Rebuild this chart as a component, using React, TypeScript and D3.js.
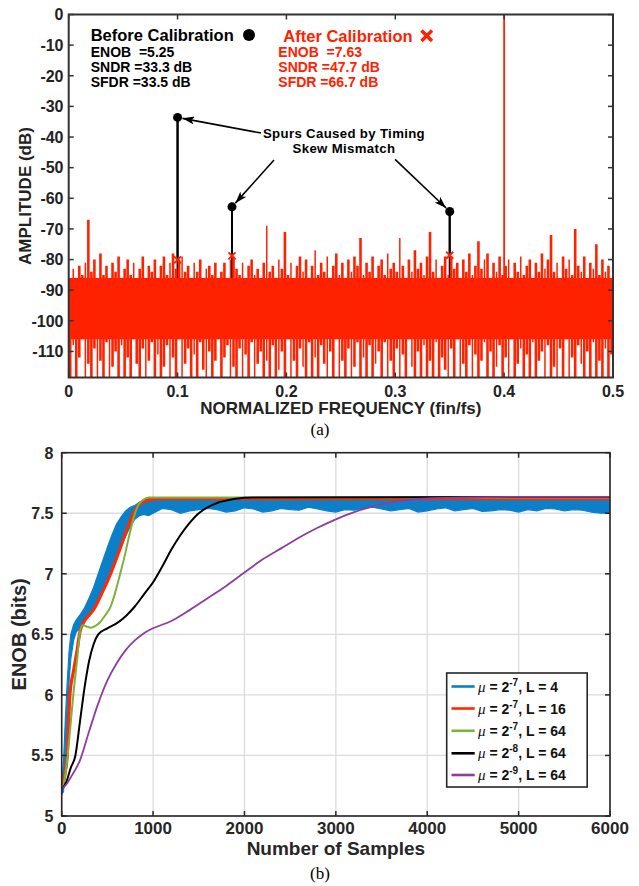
import React from 'react';
import * as d3 from 'd3';

// ---------- Panel (a) data ----------
const freqTicks = [0, 0.1, 0.2, 0.3, 0.4, 0.5];
const ampTicks = [0, -10, -20, -30, -40, -50, -60, -70, -80, -90, -100, -110];
// noise floor of the "after calibration" spectrum: upper and lower excursions per bin
const noiseTop = [
  -86, -83, -88, -82, -85, -81, -67, -84, -80, -86,
  -78, -85, -82, -87, -81, -84, -79, -86, -83, -80,
  -85, -81, -88, -83, -79, -86, -82, -84, -80, -87,
  -82, -79, -85, -81, -78, -83, -80, -79, -84, -82,
  -86, -81, -84, -80, -87, -83, -82, -85, -81, -88,
  -84, -81, -86, -80, -79, -83, -85, -81, -87, -82,
  -80, -85, -83, -88, -81, -69, -84, -82, -86, -80,
  -83, -71, -85, -81, -87, -82, -79, -84, -80, -86,
  -82, -77, -85, -81, -84, -79, -86, -82, -78, -85,
  -81, -87, -80, -84, -79, -82, -73, -85, -81, -84,
  -79, -86, -82, -80, -85, -78, -83, -81, -84, -73,
  -82, -86, -80, -84, -77, -83, -81, -85, -79, -71,
  -84, -80, -86, -82, -79, -85, -79, -83, -81, -86,
  -80, -84, -78, -85, -82, -74, -83, -80, -78, -86,
  -81, -84, -79, -85, -82, -80, -86, -81, -84, -79,
  -85, -82, -80, -87, -81, -84, -78, -83, -80, -72,
  -84, -81, -86, -79, -83, -80, -85, -70, -82, -84,
  -79, -86, -81, -83, -75, -85, -80, -84, -82, -86,
];
const noiseBottom = [
  -119, -108, -119, -112, -106, -119, -114, -119, -109, -119,
  -113, -119, -107, -119, -115, -110, -119, -108, -119, -112,
  -119, -106, -114, -119, -109, -119, -113, -107, -119, -111,
  -119, -115, -108, -119, -112, -119, -106, -119, -114, -109,
  -119, -111, -119, -107, -116, -119, -110, -119, -113, -106,
  -119, -112, -108, -119, -115, -119, -109, -119, -111, -119,
  -107, -119, -114, -110, -119, -113, -119, -108, -119, -116,
  -110, -119, -106, -119, -113, -119, -109, -115, -119, -107,
  -119, -112, -119, -108, -114, -119, -110, -119, -106, -119,
  -113, -119, -109, -119, -115, -107, -119, -112, -119, -108,
  -119, -114, -110, -119, -107, -119, -113, -119, -109, -119,
  -111, -119, -106, -115, -119, -110, -119, -108, -119, -113,
  -119, -107, -119, -112, -116, -119, -109, -119, -106, -119,
  -114, -119, -108, -119, -111, -119, -113, -107, -119, -110,
  -119, -115, -108, -119, -112, -119, -106, -119, -114, -109,
  -119, -111, -119, -107, -119, -113, -110, -119, -108, -119,
  -115, -119, -109, -119, -106, -119, -112, -119, -108, -114,
  -119, -110, -119, -107, -119, -113, -119, -109, -119, -111,
];
// solid core of the noise band (dB)
const noiseCore = [-86, -106];
const spurFreq = [0.1, 0.15, 0.35];
const spurBefore = [-33.6, -62.8, -64.3];
const spurAfter = [-80.1, -78.8, -78.6];
const signalFreq = 0.4;
const signalAmp = 0;
const signalBase = -88;
// annotation arrow tails (freq, dB)
const arrowTailFreq = [0.1767, 0.1886, 0.2998];
const arrowTailAmp = [-38.7, -47.5, -47.3];
const beforeLines = ['ENOB  =5.25', 'SNDR =33.3 dB', 'SFDR =33.5 dB'];
const afterLines = ['ENOB  =7.63', 'SNDR =47.7 dB', 'SFDR =66.7 dB'];

// ---------- Panel (b) data ----------
const sampleTicks = [0, 1000, 2000, 3000, 4000, 5000, 6000];
const enobTicks = [5, 5.5, 6, 6.5, 7, 7.5, 8];
const blueS = [0, 20, 40, 60, 80, 100, 130, 160, 200, 250, 300, 350, 400, 450, 500, 550, 600, 650, 700, 750, 800, 850, 900, 950,
  1000, 1100, 1200, 1300, 1400, 1500, 1600, 1700, 1800, 1900, 2000, 2100, 2200, 2300, 2400, 2500, 2600, 2700, 2800, 2900,
  3000, 3100, 3200, 3300, 3400, 3500, 3600, 3700, 3800, 3900, 4000, 4100, 4200, 4300, 4400, 4500, 4600, 4700, 4800, 4900,
  5000, 5100, 5200, 5300, 5400, 5500, 5600, 5700, 5800, 5900, 6000];
const blueUpper = [5.26, 5.45, 5.8, 6.1, 6.35, 6.5, 6.58, 6.62, 6.66, 6.72, 6.8, 6.89, 7.0, 7.11, 7.22, 7.32, 7.41, 7.47, 7.52, 7.55, 7.565, 7.59, 7.61, 7.62,
  7.62, 7.62, 7.62, 7.62, 7.62, 7.62, 7.62, 7.62, 7.62, 7.62, 7.62, 7.62, 7.62, 7.62, 7.62, 7.62, 7.62, 7.62, 7.62, 7.62,
  7.62, 7.62, 7.62, 7.62, 7.62, 7.62, 7.62, 7.62, 7.62, 7.62, 7.62, 7.62, 7.62, 7.62, 7.62, 7.62, 7.62, 7.62, 7.62, 7.62,
  7.62, 7.62, 7.62, 7.62, 7.62, 7.62, 7.62, 7.62, 7.62, 7.62, 7.62];
const blueLower = [5.18, 5.2, 5.45, 5.8, 6.1, 6.3, 6.45, 6.52, 6.55, 6.6, 6.65, 6.7, 6.78, 6.86, 6.95, 7.04, 7.13, 7.22, 7.31, 7.39, 7.45, 7.48, 7.49, 7.48,
  7.5, 7.54, 7.53, 7.5, 7.52, 7.53, 7.54, 7.53, 7.51, 7.52, 7.545, 7.535, 7.51, 7.52, 7.54, 7.53, 7.525, 7.55, 7.535, 7.52,
  7.51, 7.53, 7.525, 7.54, 7.55, 7.535, 7.52, 7.53, 7.54, 7.51, 7.52, 7.535, 7.545, 7.52, 7.53, 7.54, 7.515, 7.52, 7.53, 7.525,
  7.51, 7.53, 7.52, 7.54, 7.535, 7.52, 7.53, 7.525, 7.51, 7.5, 7.5];
const redS = [0, 30, 60, 90, 130, 165, 200, 240, 300, 345, 440, 530, 620, 710, 785, 860, 960, 1100, 6000];
const redV = [5.22, 5.32, 5.5, 6.0, 6.2, 6.35, 6.52, 6.6, 6.66, 6.7, 6.84, 6.99, 7.17, 7.36, 7.5, 7.58, 7.61, 7.62, 7.62];
const greenS = [0, 30, 65, 100, 127, 170, 200, 230, 270, 320, 370, 420, 470, 530, 580, 640, 690, 740, 790, 840, 890, 950, 6000];
const greenV = [5.22, 5.3, 5.5, 5.78, 6.0, 6.3, 6.52, 6.575, 6.565, 6.555, 6.57, 6.6, 6.65, 6.72, 6.83, 7.0, 7.15, 7.32, 7.47, 7.57, 7.61, 7.63, 7.63];
const blackS = [0, 50, 100, 150, 200, 250, 300, 350, 400, 500, 600, 700, 800, 900, 1000, 1100, 1200, 1300, 1400, 1500, 1600, 1700, 1800, 1900, 2100, 6000];
const blackV = [5.22, 5.28, 5.4, 5.5, 5.78, 6.06, 6.28, 6.42, 6.5, 6.55, 6.59, 6.65, 6.73, 6.83, 6.93, 7.06, 7.2, 7.32, 7.42, 7.5, 7.55, 7.585, 7.605, 7.62, 7.63, 7.635];
const purpleS = [0, 50, 100, 200, 300, 400, 500, 600, 700, 800, 900, 1000, 1200, 1400, 1600, 1800, 2000, 2200, 2400, 2600, 2800, 3000, 3200, 3400, 3600, 3800, 4000, 4400, 5000, 6000];
const purpleV = [5.22, 5.26, 5.32, 5.46, 5.7, 5.93, 6.12, 6.26, 6.37, 6.45, 6.51, 6.55, 6.61, 6.7, 6.8, 6.9, 7.01, 7.12, 7.21, 7.3, 7.38, 7.45, 7.51, 7.555, 7.59, 7.61, 7.622, 7.63, 7.635, 7.635];
const legendMuExp = ['-7', '-7', '-7', '-8', '-9'];
const legendL = ['4', '16', '64', '64', '64'];
const legendColors = ['#0b80c9', '#ff2a00', '#7bb33a', '#000000', '#8e3d9f'];

const RED = '#ff2200';
const SANS = '"Liberation Sans", Arial, Helvetica, sans-serif';
const SERIF = '"Liberation Serif", "Times New Roman", serif';

export default function App() {
  // ---- scales (a)
  const xA = d3.scaleLinear().domain([0, 0.5]).range([68.7, 613]);
  const yA = d3.scaleLinear().domain([-118.5, 0]).range([377.5, 14.5]);
  // ---- scales (b)
  const xB = d3.scaleLinear().domain([0, 6000]).range([61.7, 610]);
  const yB = d3.scaleLinear().domain([5, 8]).range([816, 452.7]);

  const N = noiseTop.length;
  const binW = 0.5 / N;
  const binPx = xA(binW) - xA(0);

  const curve = (s: number[], v: number[]) =>
    d3.line<number>().x((_, i) => xB(s[i])).y(d => yB(d)).curve(d3.curveMonotoneX)(v) || '';
  const blueArea = d3.area<number>()
    .x((_, i) => xB(blueS[i]))
    .y0((_, i) => yB(blueLower[i]))
    .y1(d => yB(d))(blueUpper) || '';

  const [ax0, ax1] = xA.range();
  const [ay1, ay0] = yA.range();
  const [bx0, bx1] = xB.range();
  const [by1, by0] = yB.range();

  const arrows = spurFreq.map((f, i) => {
    const hx = xA(f), hy = yA(spurBefore[i]);
    const tx = xA(arrowTailFreq[i]), ty = yA(arrowTailAmp[i]);
    const len = Math.hypot(hx - tx, hy - ty);
    const k = (len - 5) / len;
    return { x1: tx, y1: ty, x2: tx + (hx - tx) * k, y2: ty + (hy - ty) * k };
  });

  const legendX = 446.7, legendY = 673, legendW = 140.5, legendH = 114;
  const rowY = [686.5, 708.5, 730.8, 753.3, 775];

  return (
    <svg width={639} height={886} style={{ position: 'absolute', left: 0, top: 0, background: '#fff' }}
      fontFamily={SANS}>
      <defs>
        <clipPath id="clipA"><rect x={ax0} y={ay0} width={ax1 - ax0} height={ay1 - ay0} /></clipPath>
        <clipPath id="clipB"><rect x={bx0} y={by0} width={bx1 - bx0} height={by1 - by0} /></clipPath>
        <marker id="arr" viewBox="0 0 12 8" refX="12" refY="4" markerWidth="12" markerHeight="8"
          markerUnits="userSpaceOnUse" orient="auto">
          <path d="M0,0 L12,4 L0,8 L3,4 Z" fill="#000" />
        </marker>
      </defs>

      {/* ================= Panel (a) ================= */}
      <g clipPath="url(#clipA)">
        {spurFreq.map((f, i) => (
          <line key={'st' + i} x1={xA(f)} x2={xA(f)} y1={yA(spurBefore[i])} y2={yA(-95)} stroke="#000" strokeWidth={2} />
        ))}
        <rect x={ax0} width={ax1 - ax0} y={yA(noiseCore[0])} height={yA(noiseCore[1]) - yA(noiseCore[0])} fill={RED} />
        {noiseTop.map((t, i) => (
          <line key={'n' + i} x1={xA(i * binW) + binPx / 2} x2={xA(i * binW) + binPx / 2}
            y1={yA(t)} y2={yA(noiseBottom[i])} stroke={RED} strokeWidth={i % 4 === 1 ? 1.5 : 2.6} />
        ))}
        <line x1={xA(signalFreq)} x2={xA(signalFreq)} y1={yA(signalAmp)} y2={yA(signalBase)} stroke={RED} strokeWidth={1.8} />
      </g>
      {spurFreq.map((f, i) => (
        <g key={'sp' + i}>
          <line x1={xA(f)} x2={xA(f)} y1={yA(spurBefore[i])} y2={yA(spurAfter[i])} stroke="#000" strokeWidth={2} />
          <circle cx={xA(f)} cy={yA(spurBefore[i])} r={4.5} fill="#000" />
          <path d={`M${xA(f) - 3.5},${yA(spurAfter[i]) - 3.5} L${xA(f) + 3.5},${yA(spurAfter[i]) + 3.5} M${xA(f) + 3.5},${yA(spurAfter[i]) - 3.5} L${xA(f) - 3.5},${yA(spurAfter[i]) + 3.5}`}
            stroke={RED} strokeWidth={2} />
        </g>
      ))}
      {arrows.map((a, i) => (
        <line key={'ar' + i} {...a} stroke="#000" strokeWidth={1.6} markerEnd="url(#arr)" />
      ))}
      <text x={344} y={137.5} textAnchor="middle" fontSize={13.2} fontWeight="bold" letterSpacing={0.35}>Spurs Caused by Timing</text>
      <text x={344} y={152.8} textAnchor="middle" fontSize={13.2} fontWeight="bold" letterSpacing={0.35}>Skew Mismatch</text>

      {/* axis box (a) */}
      <rect x={ax0} y={ay0} width={ax1 - ax0} height={ay1 - ay0} fill="none" stroke="#333" strokeWidth={2} />
      {freqTicks.map(t => (
        <g key={'fx' + t}>
          <line x1={xA(t)} x2={xA(t)} y1={ay1} y2={ay1 - 5} stroke="#333" strokeWidth={1.5} />
          <line x1={xA(t)} x2={xA(t)} y1={ay0} y2={ay0 + 5} stroke="#333" strokeWidth={1.5} />
          <text x={xA(t)} y={396.5} textAnchor="middle" fontSize={16} fontWeight="bold" fill="#222">{t === 0 ? '0' : String(t)}</text>
        </g>
      ))}
      {ampTicks.map(t => (
        <g key={'ay' + t}>
          <line x1={ax0} x2={ax0 + 5} y1={yA(t)} y2={yA(t)} stroke="#333" strokeWidth={1.5} />
          <line x1={ax1} x2={ax1 - 5} y1={yA(t)} y2={yA(t)} stroke="#333" strokeWidth={1.5} />
          <text x={63.5} y={yA(t) + 5.8} textAnchor="end" fontSize={16} fontWeight="bold" fill="#222">{String(t)}</text>
        </g>
      ))}
      <text x={xA(0.25)} y={414} textAnchor="middle" fontSize={17} fontWeight="bold" fill="#222">NORMALIZED FREQUENCY (fin/fs)</text>
      <text transform={`translate(30.5,${(ay0 + ay1) / 2}) rotate(-90)`} textAnchor="middle" fontSize={17} fontWeight="bold" fill="#222">AMPLITUDE (dB)</text>

      {/* info text */}
      <text x={90.7} y={40.5} fontSize={16.5} fontWeight="bold">Before Calibration</text>
      <circle cx={249} cy={35} r={6} fill="#000" />
      {beforeLines.map((s, i) => (
        <text key={'bl' + i} x={90.7} y={57.3 + i * 15} fontSize={14} fontWeight="bold" style={{ whiteSpace: 'pre' }}>{s}</text>
      ))}
      <text x={283.3} y={41.5} fontSize={16.5} fontWeight="bold" fill={RED}>After Calibration</text>
      <path d="M421.5,30.5 L432,41 M432,30.5 L421.5,41" stroke={RED} strokeWidth={3.5} />
      {afterLines.map((s, i) => (
        <text key={'al' + i} x={278.3} y={57.3 + i * 15} fontSize={14} fontWeight="bold" fill={RED} style={{ whiteSpace: 'pre' }}>{s}</text>
      ))}
      <text x={320} y={435} textAnchor="middle" fontSize={17} fontFamily={SERIF}>(a)</text>

      {/* ================= Panel (b) ================= */}
      {sampleTicks.map(t => (
        <line key={'gx' + t} x1={xB(t)} x2={xB(t)} y1={by0} y2={by1} stroke="#dcdcdc" strokeWidth={1.3} />
      ))}
      {enobTicks.map(t => (
        <line key={'gy' + t} x1={bx0} x2={bx1} y1={yB(t)} y2={yB(t)} stroke="#dcdcdc" strokeWidth={1.3} />
      ))}
      <g clipPath="url(#clipB)">
        <path d={blueArea} fill={legendColors[0]} stroke={legendColors[0]} strokeWidth={1.2} />
        <path d={curve(redS, redV)} fill="none" stroke={legendColors[1]} strokeWidth={3.2} />
        <path d={curve(greenS, greenV)} fill="none" stroke={legendColors[2]} strokeWidth={2} />
        <path d={curve(blackS, blackV)} fill="none" stroke={legendColors[3]} strokeWidth={2} />
        <path d={curve(purpleS, purpleV)} fill="none" stroke={legendColors[4]} strokeWidth={1.8} />
      </g>
      <rect x={bx0} y={by0} width={bx1 - bx0} height={by1 - by0} fill="none" stroke="#262626" strokeWidth={1.6} />
      {sampleTicks.map(t => (
        <g key={'bx' + t}>
          <line x1={xB(t)} x2={xB(t)} y1={by1} y2={by1 - 5} stroke="#262626" strokeWidth={1.5} />
          <line x1={xB(t)} x2={xB(t)} y1={by0} y2={by0 + 5} stroke="#262626" strokeWidth={1.5} />
          <text x={xB(t)} y={834} textAnchor="middle" fontSize={17} fontWeight="bold" fill="#262626">{String(t)}</text>
        </g>
      ))}
      {enobTicks.map(t => (
        <g key={'by' + t}>
          <line x1={bx0} x2={bx0 + 5} y1={yB(t)} y2={yB(t)} stroke="#262626" strokeWidth={1.5} />
          <line x1={bx1} x2={bx1 - 5} y1={yB(t)} y2={yB(t)} stroke="#262626" strokeWidth={1.5} />
          <text x={53.5} y={yB(t) + 5.8} textAnchor="end" fontSize={16} fontWeight="bold" fill="#262626">{String(t)}</text>
        </g>
      ))}
      <text x={(bx0 + bx1) / 2} y={855} textAnchor="middle" fontSize={19} fontWeight="bold" fill="#262626">Number of Samples</text>
      <text transform={`translate(26,${(by0 + by1) / 2}) rotate(-90)`} textAnchor="middle" fontSize={20} fontWeight="bold" fill="#262626">ENOB (bits)</text>

      {/* legend */}
      <rect x={legendX} y={legendY} width={legendW} height={legendH} fill="#fff" stroke="#262626" strokeWidth={1.6} />
      {legendL.map((L, i) => (
        <g key={'lg' + i}>
          <line x1={451.5} x2={474.7} y1={rowY[i]} y2={rowY[i]} stroke={legendColors[i]} strokeWidth={2.6} />
          <text x={478} y={rowY[i] + 5} fontSize={14} fontWeight="bold" fill="#111">
            <tspan fontFamily={SERIF} fontStyle="italic" fontWeight="normal" fontSize={15}>μ</tspan>
            <tspan> = 2</tspan>
            <tspan dy={-6} fontSize={10}>{legendMuExp[i]}</tspan>
            <tspan dy={6}>, L = {L}</tspan>
          </text>
        </g>
      ))}
      <text x={320} y={879} textAnchor="middle" fontSize={17} fontFamily={SERIF}>(b)</text>
    </svg>
  );
}
